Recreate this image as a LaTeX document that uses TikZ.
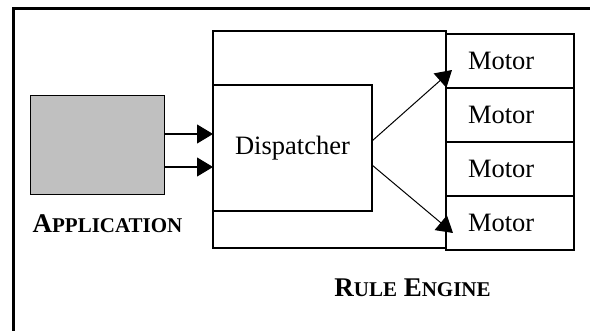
\documentclass[tikz,border=0pt]{standalone}
\usepackage{fontspec}
\setmainfont{Liberation Serif}
\usetikzlibrary{arrows.meta,calc}
\definecolor{appgray}{HTML}{C0C0C0}
\newcommand{\bigc}[1]{{\fontsize{27}{30}\selectfont #1}}
\newcommand{\smallc}[1]{{\fontsize{21}{24}\selectfont #1}}
\begin{document}
\begin{tikzpicture}[x=1pt,y=-1pt,
  box/.style={draw,rectangle,inner sep=0pt,outer sep=0pt},
  thick box/.style={box,line width=2.8pt},
  motorbox/.style={thick box,minimum width=128pt,minimum height=54pt,
     text width=84pt,inner xsep=22pt,align=left,
     font=\fontsize{26.5}{30}\selectfont},
  arr/.style={line width=1.2pt,-{Triangle[length=16pt,width=19pt]}},
  lbl/.style={anchor=base,font=\bfseries,inner sep=0pt}]
\clip (0,0) rectangle (590,331);
% outer frame (cropped at right and bottom)
\draw[line width=3pt] (13,345) -- (13,9) -- (600,9);
% application
\node[box,line width=1pt,fill=appgray,minimum width=134pt,minimum height=99pt] (app) at (97,145.5) {};
% rule engine
\node[thick box,minimum width=233pt,minimum height=217pt] (re) at (329.5,139.5) {};
\node[thick box,line width=2.6pt,minimum width=159pt,minimum height=126pt,
      font=\fontsize{26.5}{30}\selectfont] (disp) at (292.5,148) {\raisebox{3.5pt}{Dispatcher}};
% motors
\node[motorbox] (m1) at (510,61) {Motor};
\node[motorbox] (m2) at (510,115) {Motor};
\node[motorbox] (m3) at (510,169) {Motor};
\node[motorbox] (m4) at (510,223) {Motor};
% arrows
\draw[arr] ([yshift=11.5pt]app.east) -- ([yshift=11.5pt]app.east -| disp.west);
\draw[arr] ([yshift=-21.5pt]app.east) -- ([yshift=-21.5pt]app.east -| disp.west);
\draw[arr,line width=1pt] ([yshift=7pt]disp.east) -- ([xshift=6pt,yshift=-9pt]m1.west);
\draw[arr,line width=1pt] ([yshift=-17pt]disp.east) -- ([xshift=7pt,yshift=-10pt]m4.west);
% labels
\node[lbl] (applbl) at (107.5,233) {\bigc{A}\smallc{PPLICATION}};
\node[lbl] (relbl) at (412.5,297) {\bigc{R}\smallc{ULE}\bigc{ }\bigc{E}\smallc{NGINE}};
\end{tikzpicture}
\end{document}
